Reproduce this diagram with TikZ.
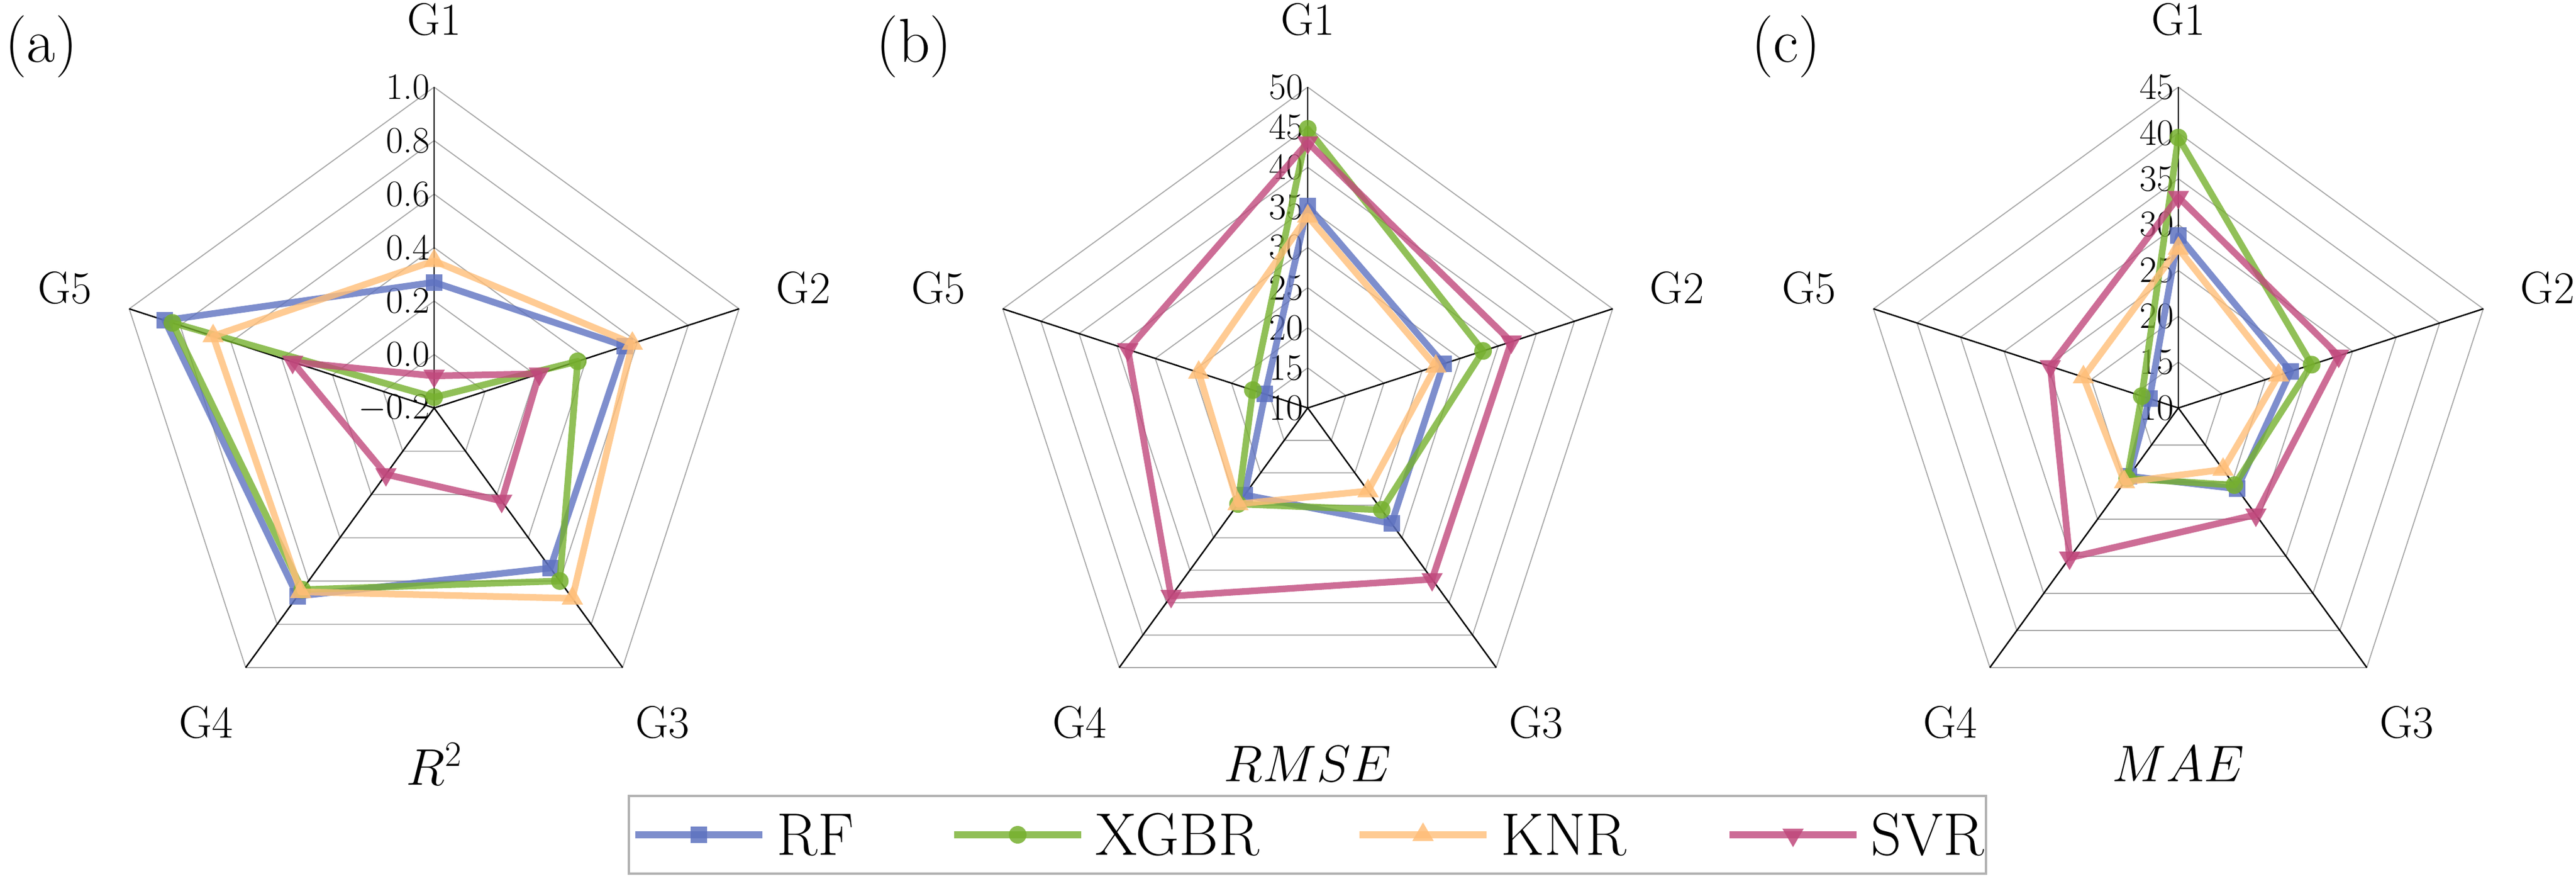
\documentclass[tikz,border=0pt]{standalone}
\usetikzlibrary{shapes.geometric,calc}
\definecolor{cRF}{RGB}{94,114,192}
\definecolor{cXG}{RGB}{118,176,46}
\definecolor{cKN}{RGB}{255,190,120}
\definecolor{cSV}{RGB}{192,72,124}
\tikzset{
  ring/.style={draw=gray!70,line width=0.5pt},
  axis/.style={draw=black,line width=0.7pt},
  ser/.style={draw=#1,line width=3.2pt,opacity=0.8,line join=round},
  mRF/.style={rectangle,fill=cRF,minimum size=0.28cm,inner sep=0pt,opacity=0.85},
  mXG/.style={circle,fill=cXG,minimum size=0.3cm,inner sep=0pt,opacity=0.85},
  mKN/.style={regular polygon,regular polygon sides=3,fill=cKN,minimum size=0.42cm,inner sep=0pt,opacity=0.85},
  mSV/.style={regular polygon,regular polygon sides=3,shape border rotate=180,fill=cSV,minimum size=0.42cm,inner sep=0pt,opacity=0.85},
  glab/.style={font=\fontsize{22}{24}\selectfont},
  tick/.style={font=\fontsize{18}{20}\selectfont,anchor=east,inner sep=1pt},
  plab/.style={font=\fontsize{30}{32}\selectfont},
  ttl/.style={font=\fontsize{25}{28}\selectfont},
  leg/.style={font=\fontsize{29}{30}\selectfont,anchor=west,inner sep=0pt},
}
\newcommand\R{5.45}
\newcommand\series[4]{%
  \foreach \v [count=\i] in {#4} {\coordinate (#1\i) at ({162-72*\i}:{(\v-\vmin)/\vrange*\R});}
  \draw[ser=#2] (#11)--(#12)--(#13)--(#14)--(#15)--cycle;
  \foreach \i in {1,...,5} {\node[#3] (#1m\i) at (#1\i) {};}
}
\newcommand\radargrid[3]{% prefix, nrings, ticks
  \foreach \k in {1,...,#2} {
    \draw[ring] (90:\k/#2*\R)--(18:\k/#2*\R)--(-54:\k/#2*\R)--(-126:\k/#2*\R)--(162:\k/#2*\R)--cycle;}
  \coordinate (#1O) at (0,0);
  \foreach \a [count=\i] in {90,18,-54,-126,162} {
    \coordinate (#1A\i) at (\a:\R);
    \draw[axis] (#1O)--(#1A\i);
    \node[glab] (#1G\i) at (\a:6.6) {G\i};}
  \foreach \t [count=\k from 0] in {#3} {\node[tick] (#1t\k) at (-0.03,\k/#2*\R) {\t};}
}
\begin{document}
\begin{tikzpicture}
\useasboundingbox (0,0) rectangle (43.79,-15.21);
% (a)
\begin{scope}[shift={(7.38,-6.93)}]
  \def\vmin{-0.2}\def\vrange{1.2}
  \radargrid{a}{6}{$-$0.2,0.0,0.2,0.4,0.6,0.8,1.0}
  \series{aRF}{cRF}{mRF}{0.27,0.55,0.54,0.67,0.86}
  \series{aXG}{cXG}{mXG}{-0.16,0.365,0.60,0.64,0.83}
  \series{aKN}{cKN}{mKN}{0.35,0.58,0.68,0.65,0.67}
  \series{aSV}{cSV}{mSV}{-0.08,0.214,0.23,0.107,0.357}
  \node[ttl] (ta) at (0,-6.05) {$R^2$};
\end{scope}
\node[plab] (pa) at (0.70,-0.79) {(a)};
% (b)
\begin{scope}[shift={(22.23,-6.93)}]
  \def\vmin{10}\def\vrange{40}
  \radargrid{b}{8}{10,15,20,25,30,35,40,45,50}
  \series{bRF}{cRF}{mRF}{35.2,27.8,27.8,23.4,15.6}
  \series{bXG}{cXG}{mXG}{44.8,33,25.7,24.8,17.2}
  \series{bKN}{cKN}{mKN}{33.9,26.8,22.8,24.8,24.3}
  \series{bSV}{cSV}{mSV}{43.1,36.7,36.4,39,33.6}
  \node[ttl] (tb) at (0,-6.05) {$RMSE$};
\end{scope}
\node[plab] (pb) at (15.54,-0.79) {(b)};
% (c)
\begin{scope}[shift={(37.03,-6.93)}]
  \def\vmin{10}\def\vrange{35}
  \radargrid{c}{7}{10,15,20,25,30,35,40,45}
  \series{cRF}{cRF}{mRF}{28.8,22.9,20.9,19.2,13.3}
  \series{cXG}{cXG}{mXG}{39.5,25.3,20.4,19.5,14.2}
  \series{cKN}{cKN}{mKN}{27.4,21.5,18.3,20,20.9}
  \series{cSV}{cSV}{mSV}{33,28.4,24.4,30.2,24.7}
  \node[ttl] (tc) at (0,-6.05) {$MAE$};
\end{scope}
\node[plab] (pc) at (30.36,-0.79) {(c)};
% legend
\draw[draw=gray!60,line width=1.2pt,fill=white] (10.69,-13.52) rectangle (33.76,-14.84);
\foreach \x/\c/\m/\t [count=\j] in {10.80/cRF/mRF/RF,16.22/cXG/mXG/XGBR,23.11/cKN/mKN/KNR,29.40/cSV/mSV/SVR}{
  \coordinate (l\j a) at (\x,-14.18);
  \coordinate (l\j b) at (\x+2.16,-14.18);
  \draw[ser=\c] (l\j a)--(l\j b);
  \node[\m] (l\j m) at ($(l\j a)!0.5!(l\j b)$) {};
  \node[leg] (l\j t) at (\x+2.4,-14.18) {\t};
}
\end{tikzpicture}
\end{document}
